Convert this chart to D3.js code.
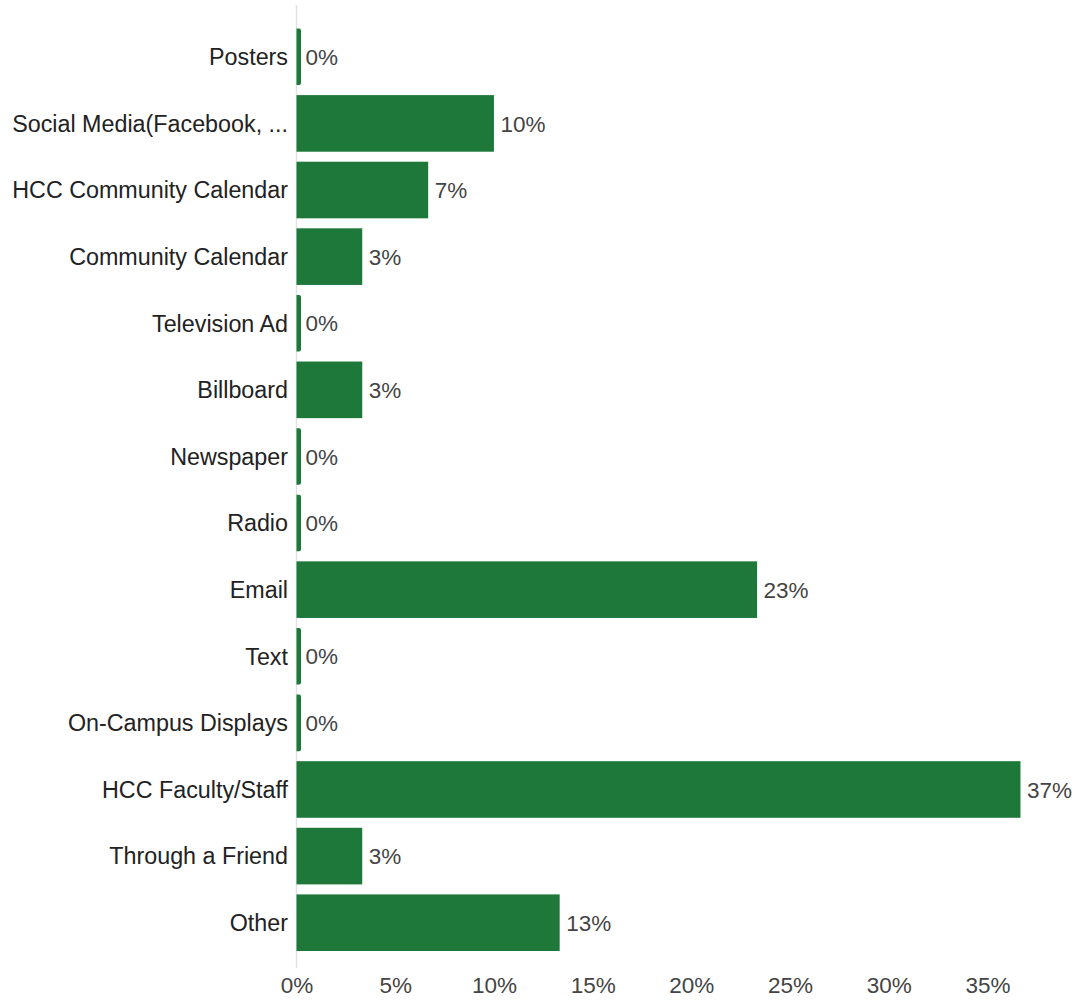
<!DOCTYPE html>
<html><head><meta charset="utf-8">
<script src="https://cdn.jsdelivr.net/npm/d3@7"></script>
<style>body{margin:0;background:#fff}svg{display:block}</style>
</head><body>
<svg id="c" width="1082" height="1000"></svg>
<script>
const categories = ["Posters","Social Media(Facebook, ...","HCC Community Calendar","Community Calendar","Television Ad","Billboard","Newspaper","Radio","Email","Text","On-Campus Displays","HCC Faculty/Staff","Through a Friend","Other"];
const values = [0, 10, 6.67, 3.33, 0, 3.33, 0, 0, 23.33, 0, 0, 36.67, 3.33, 13.33];
const ticks = [0, 5, 10, 15, 20, 25, 30, 35];

const svg = d3.select("#c");
const x = d3.scaleLinear().domain([0, 35]).range([296.5, 987.5]);
const y = d3.scaleBand().domain(categories).range([23.5, 956]).paddingInner(0.15).paddingOuter(0.075);
const font = "Liberation Sans, Arial, sans-serif";
const green = "#1e783a";

svg.append("line").attr("x1", x(0)).attr("x2", x(0)).attr("y1", 5).attr("y2", 968)
  .attr("stroke", "#e2e2e2").attr("stroke-width", 1.5);

const g = svg.append("g");
categories.forEach((c, i) => {
  const v = values[i];
  const yy = y(c), h = y.bandwidth();
  if (v > 0) {
    g.append("rect").attr("x", x(0)).attr("y", yy).attr("width", x(v) - x(0)).attr("height", h).attr("fill", green);
  } else {
    const w = 4.5, r = 2;
    const x0 = x(0);
    g.append("path").attr("d",
      `M${x0},${yy}H${x0+w-r}Q${x0+w},${yy} ${x0+w},${yy+r}V${yy+h-r}Q${x0+w},${yy+h} ${x0+w-r},${yy+h}H${x0}Z`)
      .attr("fill", green);
  }
  const labelX = v > 0 ? x(v) + 6.5 : x(0) + 9;
  g.append("text").attr("x", labelX).attr("y", yy + h / 2).attr("dy", "0.36em")
    .attr("font-family", font).attr("font-size", 22.5).attr("fill", "#444")
    .text(Math.round(v) + "%");
  g.append("text").attr("x", 288).attr("y", yy + h / 2).attr("dy", "0.36em")
    .attr("text-anchor", "end").attr("font-family", font).attr("font-size", 23.3).attr("fill", "#222")
    .text(c);
});

const axis = d3.axisBottom(x).tickValues(ticks).tickFormat(d => d + "%").tickSize(0).tickPadding(0);
const ag = svg.append("g").attr("transform", "translate(0,977)").call(axis);
ag.select(".domain").remove();
ag.selectAll("text").attr("font-family", font).attr("font-size", 22.5).attr("fill", "#444").attr("dy", "0.72em");
</script>
</body></html>
